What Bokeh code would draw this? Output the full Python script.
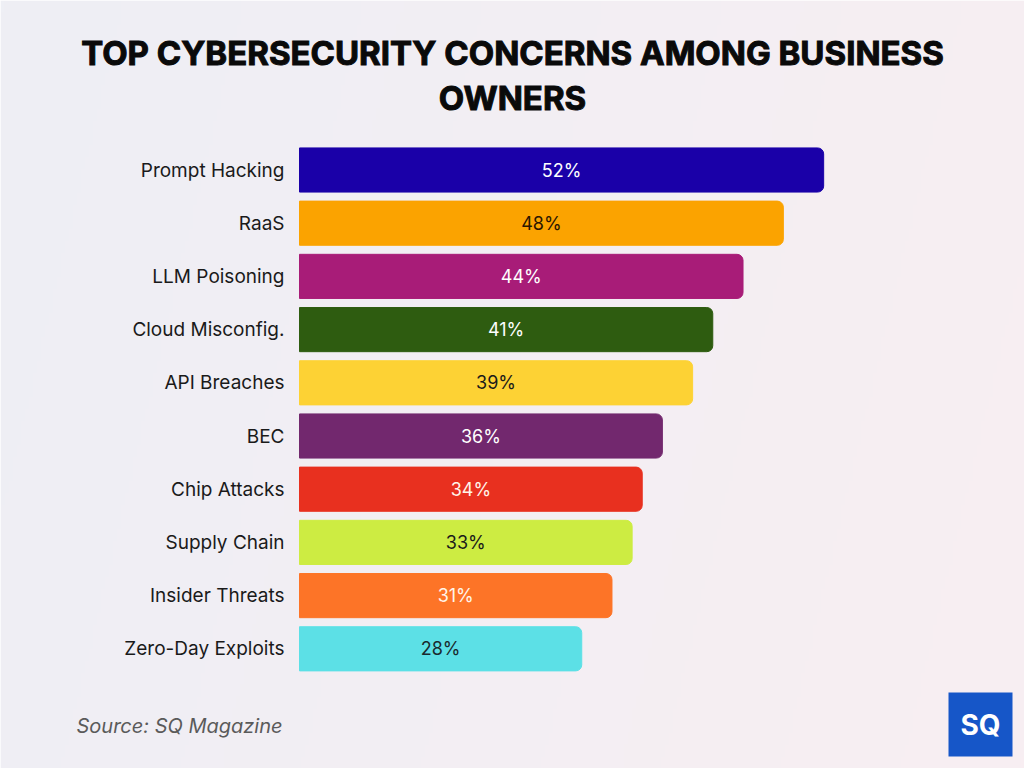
import numpy as np
from bokeh.plotting import figure
from bokeh.models import ColumnDataSource, Label, BoxAnnotation, Range1d
from bokeh.embed import file_html
from bokeh.resources import INLINE
from bokeh.core.properties import value

categories = ["Prompt Hacking", "RaaS", "LLM Poisoning", "Cloud Misconfig.", "API Breaches",
              "BEC", "Chip Attacks", "Supply Chain", "Insider Threats", "Zero-Day Exploits"]
values = [52, 48, 44, 41, 39, 36, 34, 33, 31, 28]
colors = ["#1a00a8", "#fba300", "#a81c78", "#2e5c10", "#fdd234",
          "#72286e", "#e8301f", "#cdec42", "#fd7427", "#5ce0e6"]
label_colors = ["#ffffff", "#2a1500", "#ffffff", "#ffffff", "#1a1a1a",
                "#ffffff", "#fff4ea", "#1a1a1a", "#fff4ea", "#1a2a2e"]
labels = [f"{v}%" for v in values]
title_lines = ["TOP CYBERSECURITY CONCERNS AMONG BUSINESS", "OWNERS"]
source_text = "Source: SQ Magazine"

n = len(categories)
ypos = [n - 1 - i for i in range(n)]  # top category highest
src = ColumnDataSource(dict(cat=categories, y=ypos, val=values, half=[v / 2 for v in values],
                            color=colors, lc=label_colors, lab=labels))

W, H = 1024, 768
# layout: the whole canvas is the frame; value axis zero sits at x=299 px
PX_PER_PCT = 10.08
PX_PER_ROW = 53.2
X0_PX = 299
TOP_CENTER_PX = 169.5
x_start = -X0_PX / PX_PER_PCT
x_end = x_start + W / PX_PER_PCT
y_start = (n - 1) - (H - TOP_CENTER_PX) / PX_PER_ROW
y_end = y_start + H / PX_PER_ROW

p = figure(width=W, height=H, output_backend="svg", toolbar_location=None,
           x_range=Range1d(x_start, x_end), y_range=Range1d(y_start, y_end),
           min_border=0, min_border_left=0, min_border_right=0,
           min_border_top=0, min_border_bottom=0)
p.outline_line_color = None
p.grid.visible = False
p.axis.visible = False
p.border_fill_color = "#f3eff3"

# soft background gradient (left bluish-grey -> right pinkish)
gx = np.linspace(0, 1, 256)[None, :]
gy = np.linspace(0, 1, 64)[:, None]
c0 = np.array([0xee, 0xef, 0xf5], float)
c1 = np.array([0xf8, 0xee, 0xf2], float)
t = np.clip(gx * 0.85 + (1 - gy) * 0.15, 0, 1)
img = np.zeros((64, 256), dtype=np.uint32)
view = img.view(dtype=np.uint8).reshape((64, 256, 4))
for k in range(3):
    view[:, :, k] = (c0[k] + (c1[k] - c0[k]) * t).astype(np.uint8)
view[:, :, 3] = 255
p.image_rgba(image=[img], x=x_start, y=y_start, dw=x_end - x_start, dh=y_end - y_start)

p.hbar(y="y", right="val", left=0, height=0.83, color="color", source=src,
       border_radius=(0, 6, 6, 0))
p.text(x="half", y="y", text="lab", text_color="lc", source=src,
       text_align="center", text_baseline="middle",
       text_font=value("Inter"), text_font_size="18px")
p.text(x=0, y="y", text="cat", source=src, x_offset=-15,
       text_align="right", text_baseline="middle", text_color="#1a1a1a",
       text_font=value("Inter"), text_font_size="19px")

def sy(py):
    return H - py

for txt, py in zip(title_lines, [52, 97]):
    p.add_layout(Label(x=512, y=sy(py), x_units="screen", y_units="screen",
                       text=txt, text_align="center", text_baseline="middle",
                       text_font="Inter", text_font_style="bold", text_font_size="33px",
                       text_color="#0a0a0a", text_outline_color="#0a0a0a"))

p.add_layout(Label(x=76, y=sy(725), x_units="screen", y_units="screen",
                   text=source_text, text_align="left", text_baseline="middle",
                   text_font="Inter", text_font_style="italic", text_font_size="20px",
                   text_color="#5a5a5a"))

p.add_layout(BoxAnnotation(left=948, right=1012, top=sy(692), bottom=sy(756),
                           left_units="screen", right_units="screen",
                           top_units="screen", bottom_units="screen",
                           fill_color="#1656c8", fill_alpha=1.0, line_color=None))
p.add_layout(Label(x=980, y=sy(724), x_units="screen", y_units="screen",
                   text="SQ", text_align="center", text_baseline="middle",
                   text_font="Inter", text_font_style="bold", text_font_size="28px",
                   text_color="#ffffff"))

open("out.html", "w").write(file_html(p, INLINE))
